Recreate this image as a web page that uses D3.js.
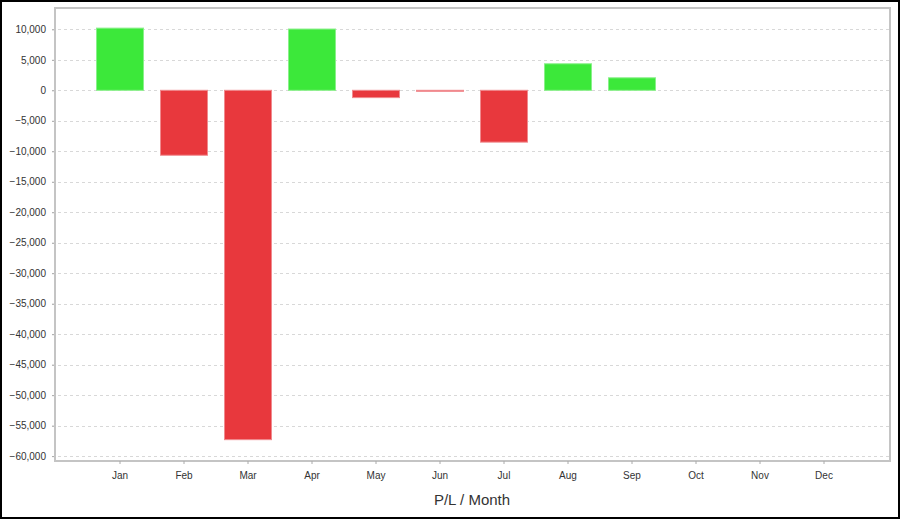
<!DOCTYPE html>
<html><head><meta charset="utf-8">
<script src="https://cdn.jsdelivr.net/npm/d3@7/dist/d3.min.js"></script>
<style>body{margin:0;background:#fff}svg{display:block;font-family:"Liberation Sans",Arial,sans-serif}</style>
</head><body><svg id="c" width="900" height="519"></svg>
<script>
const months = ["Jan","Feb","Mar","Apr","May","Jun","Jul","Aug","Sep","Oct","Nov","Dec"];
const pl = [10200, -10650, -57300, 10050, -1200, -150, -8500, 4350, 2050, null, null, null];
const yTicks = [10000,5000,0,-5000,-10000,-15000,-20000,-25000,-30000,-35000,-40000,-45000,-50000,-55000,-60000];
const title = "P/L / Month";

const svg = d3.select("#c");
const L = 55, R = 890, T = 8, B = 461;
const x = d3.scaleBand().domain(months).range([88, 856]).paddingInner(0.25).paddingOuter(0.125);
const y = d3.scaleLinear().domain([-60800, 13500]).range([B, T]);

svg.append("rect").attr("x",1).attr("y",1).attr("width",898).attr("height",517)
  .attr("fill","#fff").attr("stroke","#000").attr("stroke-width",2);

// grid
svg.append("g").selectAll("line").data(yTicks).join("line")
  .attr("x1",L-3).attr("x2",R).attr("y1",d=>Math.round(y(d))+0.5).attr("y2",d=>Math.round(y(d))+0.5)
  .attr("stroke","#d8d8d8").attr("stroke-dasharray","3,3");

// y axis
const ya = svg.append("g").attr("transform",`translate(${L},0)`)
  .call(d3.axisLeft(y).tickValues(yTicks).tickSize(3).tickPadding(6).tickFormat(d3.format(",")));
ya.select(".domain").remove();
ya.selectAll("line").attr("stroke","#aaa");
ya.selectAll("text").attr("fill","#333").style("font-size","10px");

// bars
svg.append("g").selectAll("rect").data(months.map((m,i)=>({m,v:pl[i]})).filter(d=>d.v!=null)).join("rect")
  .attr("x",d=>x(d.m)+0.5).attr("width",x.bandwidth()-1)
  .attr("y",d=>Math.min(y(d.v),y(0))).attr("height",d=>Math.max(1,Math.abs(y(d.v)-y(0))))
  .attr("fill",d=>d.v>=0?"#3ce83a":"#e8383d")
  .attr("stroke",d=>d.v>=0?"#8af08a":"#f08a8e").attr("stroke-width",1);

// frame
svg.append("rect").attr("x",L).attr("y",T).attr("width",R-L).attr("height",B-T)
  .attr("fill","none").attr("stroke","#c4c4c4").attr("stroke-width",2);

// x axis
const xa = svg.append("g").attr("transform",`translate(0,${B})`)
  .call(d3.axisBottom(x).tickSize(3).tickPadding(8));
xa.select(".domain").remove();
xa.selectAll("line").attr("stroke","#aaa");
xa.selectAll("text").attr("fill","#333").style("font-size","10px");

svg.append("text").attr("x",472).attr("y",505).attr("text-anchor","middle")
  .attr("fill","#333").style("font-size","15px").text(title);
</script></body></html>
